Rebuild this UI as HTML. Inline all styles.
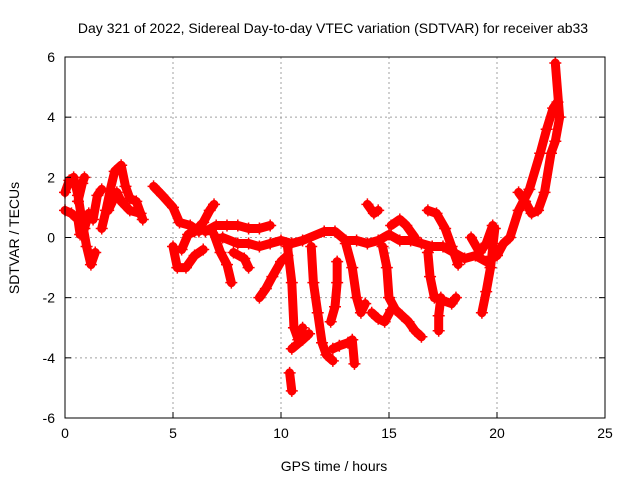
<!DOCTYPE html>
<html><head><meta charset="utf-8"><style>
body{margin:0;background:#fff}
svg{display:block;font-family:"Liberation Sans",sans-serif}
</style></head><body>
<svg id="chart" width="640" height="480">
<text x="333" y="33" font-size="14" text-anchor="middle">Day 321 of 2022, Sidereal Day-to-day VTEC variation (SDTVAR) for receiver ab33</text>
<text x="334" y="471" font-size="14" text-anchor="middle">GPS time / hours</text>
<text transform="translate(19,238) rotate(-90)" font-size="14" text-anchor="middle">SDTVAR / TECUs</text>
<g id="grid"></g>
<g id="marks"></g>
<g id="axes"></g>
</svg>
<script>
const xTicks=[0,5,10,15,20,25];
const yTicks=[-6,-4,-2,0,2,4,6];
const tracks=[
[[0,1.5],[0.2,1.9],[0.4,2.0],[0.6,1.4],[0.8,0.5],[1.0,-0.3],[1.2,-0.9],[1.4,-0.5]],
[[0,0.9],[0.3,0.8],[0.6,0.6],[0.7,0.1],[0.9,0.3],[1.1,0.8],[1.3,0.6],[1.5,1.4],[1.7,1.6]],
[[0.6,1.2],[0.8,1.8],[0.9,2.0]],
[[1.7,0.3],[1.9,0.9],[2.1,1.6],[2.3,2.2],[2.6,2.4],[2.8,1.7],[3.0,1.3],[3.3,1.2],[3.6,0.6]],
[[2.0,0.9],[2.4,1.5],[2.6,1.2],[3.0,0.9],[3.5,0.8]],
[[4.1,1.7],[4.5,1.4],[5.0,1.0],[5.3,0.5],[5.8,0.4],[6.2,0.2]],
[[5.0,-0.3],[5.2,-1.0],[5.6,-1.0],[6.0,-0.6],[6.4,-0.4]],
[[5.4,-0.4],[5.7,0.1],[6.0,0.2],[6.4,0.5],[6.7,0.9],[6.9,1.1]],
[[6.5,0.2],[7,0.4],[7.5,0.4],[8,0.4],[8.5,0.3],[9.0,0.3],[9.5,0.4]],
[[6.9,0.1],[7.2,-0.5],[7.5,-0.9],[7.7,-1.5]],
[[7.3,0],[8,-0.2],[8.5,-0.2],[9,-0.3],[9.5,-0.2],[10,-0.1],[10.5,-0.2],[11,-0.1],[12,0.2],[12.5,0.2],[13,-0.1],[13.5,-0.1],[14,-0.2],[14.5,-0.1],[15,0.1],[15.5,-0.1],[16,-0.1],[16.5,-0.2],[17,-0.3],[17.5,-0.3],[18,-0.5],[18.5,-0.7],[19,-0.6],[19.5,-0.8],[20,-0.6],[20.3,-0.2],[20.6,0],[21,0.9],[21.5,1.6],[22,2.8],[22.3,3.6],[22.6,4.3],[22.8,4.5]],
[[7.8,-0.5],[8.3,-0.7],[8.5,-1.0]],
[[9,-2.0],[9.3,-1.7],[9.6,-1.3],[10,-0.8],[10.3,-0.6]],
[[10.3,-0.3],[10.5,-1.5],[10.6,-3.0],[10.8,-3.4],[11,-3.0]],
[[10.5,-3.7],[11,-3.4],[11.3,-3.2]],
[[10.4,-4.5],[10.5,-5.1]],
[[11.4,-0.3],[11.5,-1.5],[11.7,-2.5],[11.9,-3.5],[12.1,-3.9],[12.4,-4.1]],
[[12.4,-3.7],[12.7,-3.6],[13.1,-3.5],[13.3,-3.4],[13.4,-4.2]],
[[13.0,-0.2],[13.3,-1],[13.5,-2],[13.7,-2.5],[13.9,-2.2]],
[[12.6,-0.8],[12.6,-1.5],[12.5,-2.3],[12.3,-2.8]],
[[14,1.1],[14.3,0.8],[14.5,0.9]],
[[14.2,-2.5],[14.5,-2.7],[14.8,-2.8],[15.1,-2.4]],
[[14.7,-0.3],[14.9,-1],[15,-2],[15.3,-2.4],[15.6,-2.6],[15.9,-2.8],[16.2,-3.1],[16.5,-3.3]],
[[15.1,0.4],[15.5,0.6],[15.8,0.4],[16.2,0]],
[[16.8,0.9],[17.2,0.8],[17.6,0.3],[17.9,-0.3],[18.2,-0.9]],
[[16.8,-0.5],[16.9,-1.3],[17.1,-2],[17.5,-2.1],[17.9,-2.2],[18.1,-2.0]],
[[17.4,-2],[17.3,-2.6],[17.3,-3.1]],
[[19.3,-2.5],[19.5,-1.8],[19.7,-1.0],[19.9,0.3]],
[[18.8,0],[19.2,-0.5],[19.5,-0.2],[19.8,0.4]],
[[21,1.5],[21.3,1.2],[21.6,0.8],[21.9,0.9],[22.2,1.5],[22.5,2.8],[22.7,3.2],[22.9,4],[22.7,5.8]]
];
const NS="http://www.w3.org/2000/svg";
const L=65,R=605,T=57,B=418;
const sx=h=>L+(h-0)/(25-0)*(R-L);
const sy=v=>B-(v+6)/12*(B-T);
function mk(tag,attrs,parent){const e=document.createElementNS(NS,tag);for(const k in attrs)e.setAttribute(k,attrs[k]);parent.appendChild(e);return e;}
const grid=document.getElementById('grid'),axes=document.getElementById('axes'),marks=document.getElementById('marks');
xTicks.forEach(t=>{
  if(t>0&&t<25){const g=mk('line',{x1:sx(t),x2:sx(t),y1:T,y2:B,stroke:'#a0a0a0','stroke-dasharray':'2,3'},grid);
  
  }
  const tk=mk('line',{x1:sx(t),x2:sx(t),y1:B,y2:B-6,stroke:'#000'},axes);
  
  
  const tx=mk('text',{x:sx(t),y:B+20,'font-size':14,'text-anchor':'middle'},axes);tx.textContent=t;
  
  
});
yTicks.forEach(t=>{
  if(t>-6&&t<6){const g=mk('line',{x1:L,x2:R,y1:sy(t),y2:sy(t),stroke:'#a0a0a0','stroke-dasharray':'2,3'},grid);
  
  }
  const tk=mk('line',{x1:L,x2:L+6,y1:sy(t),y2:sy(t),stroke:'#000'},axes);
  
  
  const tk2=mk('line',{x1:R,x2:R-6,y1:sy(t),y2:sy(t),stroke:'#000'},axes);
  
  
  const tx=mk('text',{x:L-10,y:sy(t)+5,'font-size':14,'text-anchor':'end'},axes);tx.textContent=t;
  
  
});
const frame=mk('rect',{x:L,y:T,width:R-L,height:B-T,fill:'none',stroke:'#000'},axes);


tracks.forEach(tr=>{
  const pl=mk('polyline',{points:tr.map(p=>sx(p[0])+','+sy(p[1])).join(' '),fill:'none',stroke:'#ff0000','stroke-width':9,'stroke-linejoin':'round','stroke-linecap':'round'},marks);
  
  
  tr.forEach(p=>{
    const x=sx(p[0]),y=sy(p[1]);
    const m=mk('path',{d:`M${x-6},${y}H${x+6}M${x},${y-6}V${y+6}`,stroke:'#ff0000','stroke-width':1.5},marks);
    
    
  });
});
</script>
</body></html>
